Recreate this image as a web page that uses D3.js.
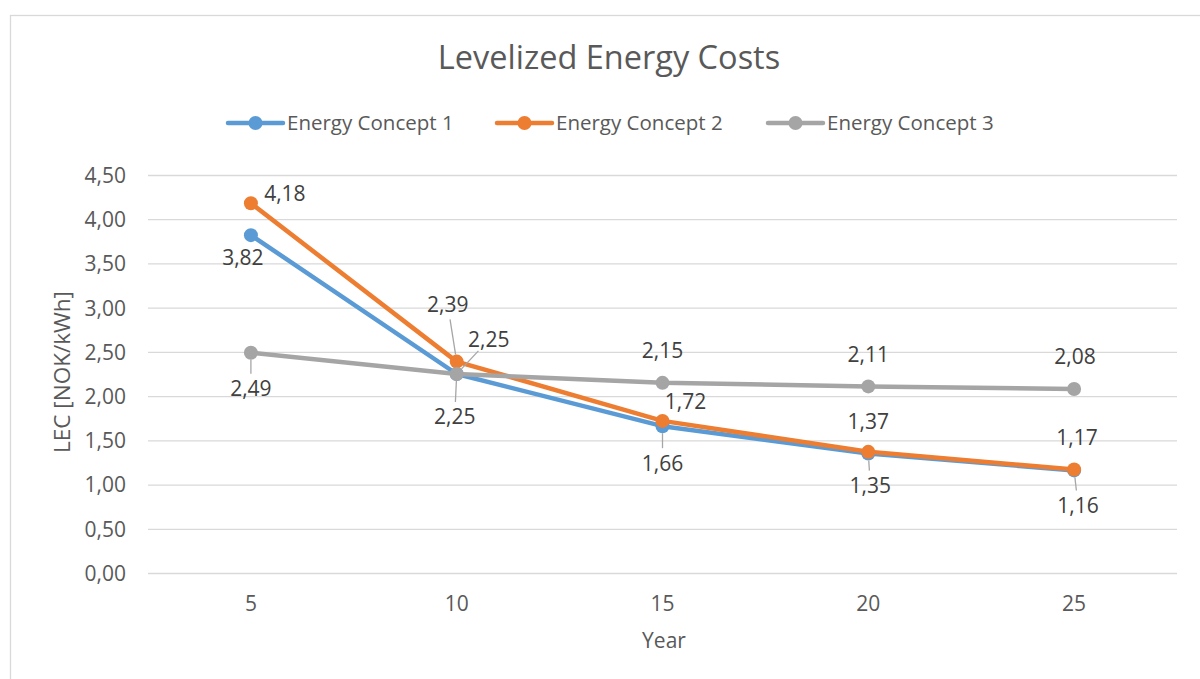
<!DOCTYPE html>
<meta charset="utf-8">
<title>Levelized Energy Costs</title>
<style>
  body { margin: 0; background: #fff; }
  svg { display: block; font-family: "Open Sans", sans-serif; }
  .grid line { stroke: #d9d9d9; stroke-width: 1.3px; }
  .grid .domain { display: none; }
  .label { fill: #404040; font-size: 21px; text-anchor: middle; }
  .leader { stroke: #a6a6a6; stroke-width: 1.3px; }
</style>
<svg width="1200" height="679"></svg>
<script src="https://d3js.org/d3.v7.min.js"></script>
<script>
  // chart data
  var years = ["5", "10", "15", "20", "25"];
  var concept1 = [3.82, 2.25, 1.66, 1.35, 1.16];
  var concept2 = [4.18, 2.39, 1.72, 1.37, 1.17];
  var concept3 = [2.49, 2.25, 2.15, 2.11, 2.08];
  var seriesNames = ["Energy Concept 1", "Energy Concept 2", "Energy Concept 3"];
  var yTicks = [0, 0.5, 1, 1.5, 2, 2.5, 3, 3.5, 4, 4.5];

  var colors = ["#5b9bd5", "#ed7d31", "#a5a5a5"];
  // label offsets (dx, dy from point) and leader flag, per series per point
  var labelPos = [
    [[-8, 23, 0], [-2, 43, 1], [0, 37, 1], [2, 32, 1], [4, 35, 1]],
    [[34, -10, 0], [-9, -57, 1], [23, -19, 0], [0, -30, 0], [3, -32, 0]],
    [[0, 36, 1], [32, -34, 1], [0, -32, 0], [0, -32, 0], [1, -32, 0]]
  ];

  var svg = d3.select("svg"),
    width = +svg.attr("width"),
    height = +svg.attr("height");

  var fmt = function (v) { return d3.format(".2f")(v).replace(".", ","); };

  // outer frame
  svg.append("rect")
    .attr("x", 10.5).attr("y", 15.5)
    .attr("width", 1200).attr("height", 700)
    .attr("fill", "none").attr("stroke", "#d9d9d9").attr("stroke-width", 1.3);

  var margin = { left: 148, right: 1177, top: 175, bottom: 573 };

  var x = d3.scaleBand().domain(years).range([margin.left, margin.right]);
  var y = d3.scaleLinear().domain([0, 4.5]).range([margin.bottom, margin.top]);

  // gridlines + y tick labels
  var yAxis = svg.append("g")
    .attr("class", "grid")
    .attr("transform", "translate(" + margin.left + ",0)")
    .call(d3.axisLeft(y).tickValues(yTicks).tickFormat(fmt)
      .tickSize(-(margin.right - margin.left)).tickPadding(22));

  // x axis labels
  var xAxis = svg.append("g")
    .attr("class", "grid")
    .attr("transform", "translate(0," + margin.bottom + ")")
    .call(d3.axisBottom(x).tickSize(0).tickPadding(31));

  svg.selectAll(".grid")
    .attr("font-family", null).attr("font-size", null);
  svg.selectAll(".grid .tick text")
    .attr("dy", "0.35em")
    .attr("fill", "#595959")
    .style("font-size", "21px")
    .style("font-family", "'Open Sans', sans-serif");

  // title
  svg.append("text")
    .attr("x", 609).attr("y", 58).attr("dy", "0.35em")
    .attr("text-anchor", "middle")
    .attr("fill", "#595959")
    .style("font-size", "32.5px")
    .text("Levelized Energy Costs");

  // axis titles
  svg.append("text")
    .attr("x", 664).attr("y", 641).attr("dy", "0.35em")
    .attr("text-anchor", "middle").attr("fill", "#595959")
    .style("font-size", "21px")
    .text("Year");

  svg.append("text")
    .attr("transform", "translate(62,372) rotate(-90)")
    .attr("dy", "0.35em")
    .attr("text-anchor", "middle").attr("fill", "#595959")
    .style("font-size", "22.5px")
    .text("LEC [NOK/kWh]");

  // legend
  var legendX = [228, 497, 768];
  var legend = svg.selectAll(".legend")
    .data(seriesNames)
    .enter().append("g")
    .attr("class", "legend")
    .attr("transform", function (d, i) { return "translate(" + legendX[i] + ",123)"; });
  legend.append("line")
    .attr("x1", 0).attr("x2", 55)
    .attr("stroke", function (d, i) { return colors[i]; })
    .attr("stroke-width", 4.5).attr("stroke-linecap", "round");
  legend.append("circle")
    .attr("cx", 27.5).attr("r", 7)
    .attr("fill", function (d, i) { return colors[i]; });
  legend.append("text")
    .attr("x", 59).attr("dy", "0.35em")
    .attr("fill", "#595959").style("font-size", "20.5px")
    .text(function (d) { return d; });

  // lines
  var series = [concept1, concept2, concept3];
  var line = d3.line()
    .x(function (d, i) { return x(years[i]) + x.bandwidth() / 2; })
    .y(function (d) { return y(d); });

  var sg = svg.selectAll(".series")
    .data(series)
    .enter().append("g")
    .attr("class", "series");

  sg.append("path")
    .attr("d", line)
    .attr("fill", "none")
    .attr("stroke", function (d, i) { return colors[i]; })
    .attr("stroke-width", 4.5)
    .attr("stroke-linejoin", "round")
    .attr("stroke-linecap", "round");

  sg.each(function (vals, si) {
    d3.select(this).selectAll("circle")
      .data(vals)
      .enter().append("circle")
      .attr("cx", function (d, i) { return x(years[i]) + x.bandwidth() / 2; })
      .attr("cy", function (d) { return y(d); })
      .attr("r", 7)
      .attr("fill", colors[si]);
  });

  // data labels with leader lines
  series.forEach(function (vals, si) {
    vals.forEach(function (v, i) {
      var px = x(years[i]) + x.bandwidth() / 2, py = y(v);
      var p = labelPos[si][i];
      var lx = px + p[0], ly = py + p[1];
      if (p[2]) {
        var dx = lx - px, dy = ly - py;
        var len = Math.sqrt(dx * dx + dy * dy);
        var start = 7, end = len - 15;
        svg.append("line")
          .attr("class", "leader")
          .attr("x1", px + dx / len * start).attr("y1", py + dy / len * start)
          .attr("x2", px + dx / len * end).attr("y2", py + dy / len * end);
      }
      svg.append("text")
        .attr("class", "label")
        .attr("x", lx).attr("y", ly).attr("dy", "0.35em")
        .text(fmt(v));
    });
  });
</script>
